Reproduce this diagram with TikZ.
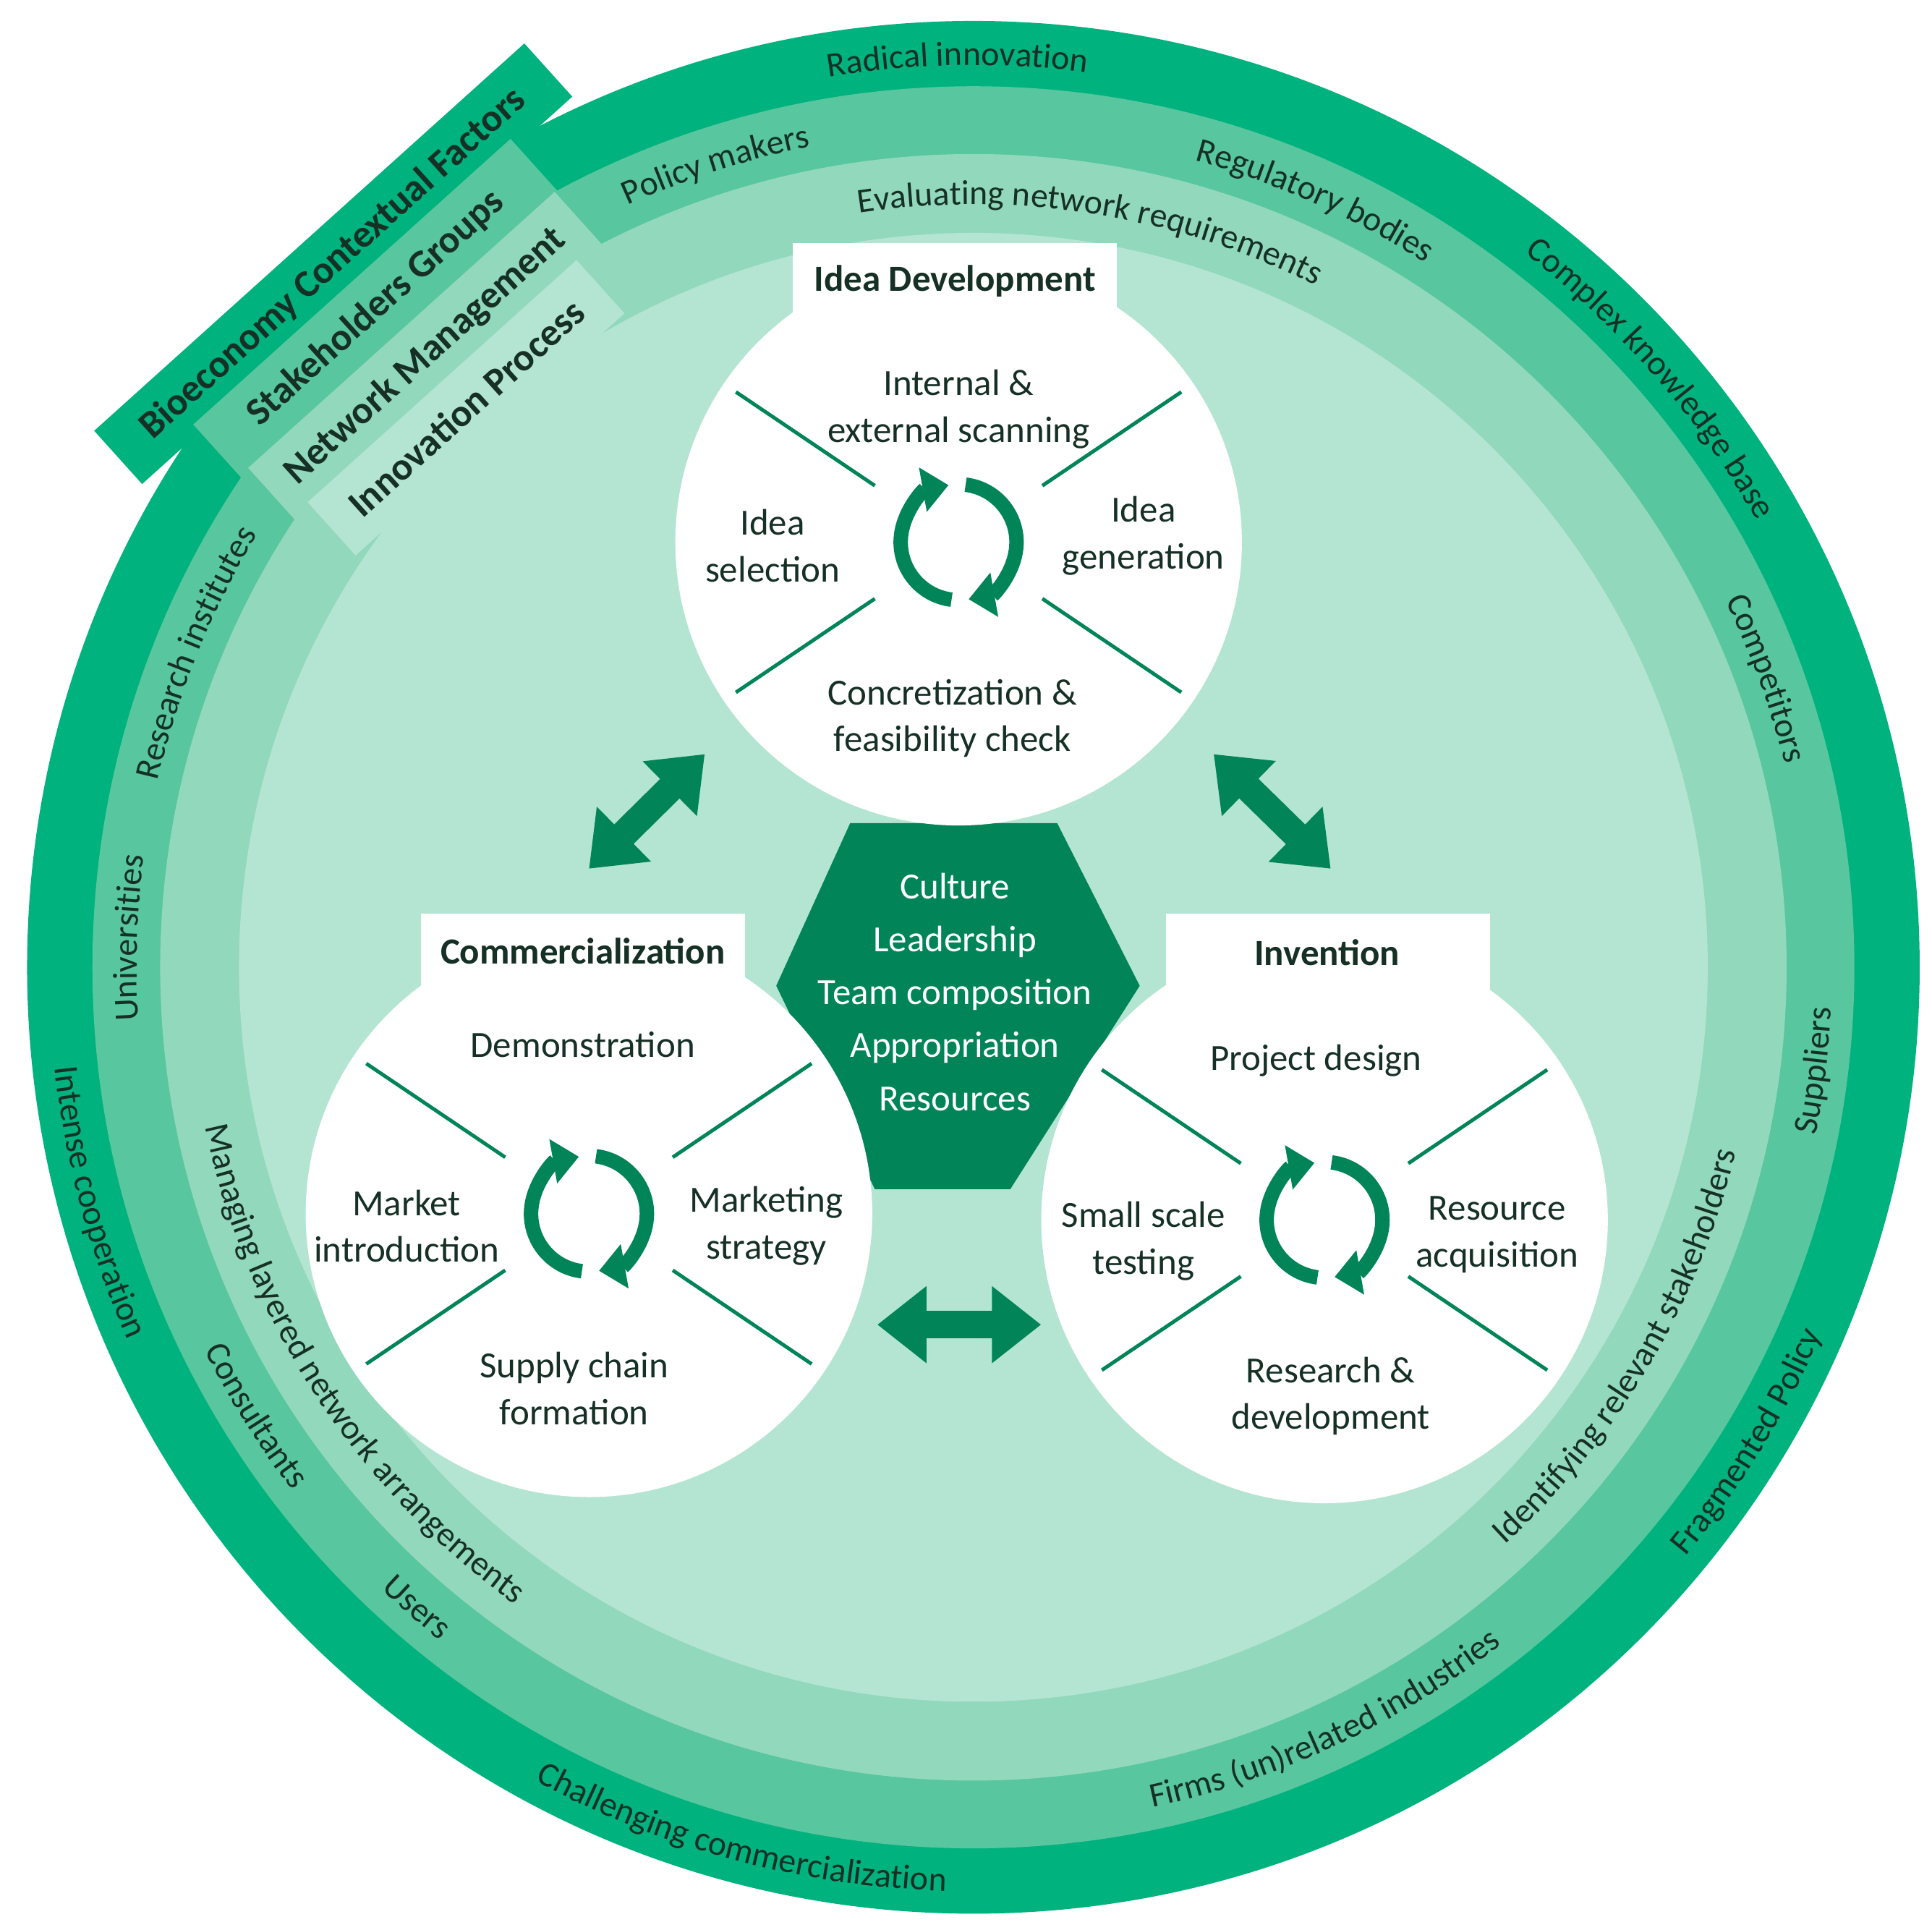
\documentclass[tikz,border=0pt]{standalone}
\usepackage{fontspec}
\setmainfont{Carlito}
\usetikzlibrary{arrows.meta,decorations.text}
\definecolor{ring1}{RGB}{0,178,125}
\definecolor{ring2}{RGB}{88,198,158}
\definecolor{ring3}{RGB}{146,216,189}
\definecolor{ring4}{RGB}{180,229,210}
\definecolor{dk}{RGB}{0,132,88}
\definecolor{txt}{RGB}{22,48,38}
\newcommand\ringfont{\fontsize{13.6}{16}\selectfont}
\newcommand\cwtext[3]{\path[decorate,decoration={text along path,text align=center,text color=txt,text={|\ringfont|#3}}] ({#2+50}:#1) arc[start angle={#2+50},end angle={#2-50},radius=#1];}
\newcommand\ccwtext[3]{\path[decorate,decoration={text along path,text align=center,text color=txt,text={|\ringfont|#3}}] ({#2-50}:#1) arc[start angle={#2-50},end angle={#2+50},radius=#1];}
\begin{document}
\begin{tikzpicture}[x=0.01703cm,y=0.01703cm,
  tab/.style={rectangle,rotate=42,minimum height=0.99cm,inner sep=0,font=\bfseries\fontsize{15.2}{17}\selectfont,text=txt},
  stage/.style={circle,fill=white,minimum size=7.83cm,inner sep=0},
  head/.style={rectangle,fill=white,minimum width=4.48cm,minimum height=1.05cm},
  lbl/.style={align=center,text=txt,font=\fontsize{14.5}{18.4}\selectfont},
  sep/.style={draw=dk,line width=0.05cm},
  cyc/.style={draw=dk,line width=0.2cm,-{Triangle[width=0.6cm,length=0.36cm]}},
  big/.style={draw=dk,line width=0.38cm,{Triangle[width=1.02cm,length=0.68cm]}-{Triangle[width=1.02cm,length=0.68cm]}}]
\useasboundingbox (-790,-781) rectangle (778,785);
% rings
\fill[ring1] (0,0) circle[radius=768];
\fill[ring2] (0,0) circle[radius=715];
\fill[ring3] (0,0) circle[radius=660];
\fill[ring4] (0,0) circle[radius=596];
% tabs
\node[tab,fill=ring1,minimum width=8.0cm] (tb1) at (132.3:772) {Bioeconomy Contextual Factors};
\node[tab,fill=ring2,minimum width=5.9cm] (tb2) at (132.2:722) {Stakeholders Groups};
\node[tab,fill=ring3,minimum width=5.7cm] (tb3) at (131.9:666) {Network Management};
\node[tab,fill=ring4,minimum width=5.0cm] (tb4) at (132.2:613) {Innovation Process};
% ring texts
\cwtext{732}{91}{Radical innovation}
\cwtext{732}{41}{Complex knowledge base}
\ccwtext{750}{-31.5}{Fragmented Policy}
\ccwtext{750}{-105}{Challenging commercialization}
\ccwtext{750}{-165}{Intense cooperation}
\cwtext{679}{107.8}{Policy makers}
\cwtext{679}{66}{Regulatory bodies}
\cwtext{679}{20}{Competitors}
\ccwtext{697}{-7}{Suppliers}
\ccwtext{697}{-65}{Firms (un)related industries}
\ccwtext{697}{-131}{Users}
\ccwtext{697}{-148}{Consultants}
\cwtext{679}{178}{Universities}
\cwtext{679}{158}{Research institutes}
\cwtext{619}{81}{Evaluating network requirements}
\ccwtext{637}{-30.5}{Identifying relevant stakeholders}
\ccwtext{637}{-147}{Managing layered network arrangements}
% hexagon
\fill[dk] (-100,117) -- (68,117) -- (135,-15) -- (30,-180) -- (-80,-180) -- (-160,-15) -- cycle;
% stage circles
\node[stage] (c1) at (-12,345) {};
\node[head] (h1) at (-15,557) {};
\node[stage] (c2) at (-312,-200) {};
\node[head] (h2) at (-317,13) {};
\node[stage] (c3) at (285,-205) {};
\node[head] (h3) at (288,13) {};
\node[font=\bfseries\fontsize{14.5}{17}\selectfont,text=txt] (t1) at (-15,557) {Idea Development};
\node[font=\bfseries\fontsize{14.5}{17}\selectfont,text=txt] (t2) at (-317,13) {Commercialization};
\node[font=\bfseries\fontsize{14.5}{17}\selectfont,text=txt] (t3) at (287,12) {Invention};
% separator lines and cycles
\foreach \c in {c1,c2,c3}{
  \foreach \a in {34,146,214,326}{
    \draw[sep] ([shift={(\a:82)}]\c.center) -- ([shift={(\a:218)}]\c.center);
  }
  \draw[cyc] ([shift={(263:47)}]\c.center) arc[start angle=263,end angle=100,radius=47];
  \draw[cyc] ([shift={(83:47)}]\c.center) arc[start angle=83,end angle=-80,radius=47];
}
% labels idea
\node[lbl] (l11) at (-12,453) {Internal \&\\external scanning};
\node[lbl] (l12) at (-163,342) {Idea\\selection};
\node[lbl] (l13) at (138,350) {Idea\\generation};
\node[lbl] (l14) at (-17,202) {Concretization \&\\feasibility check};
% commercialization
\node[lbl] (l21) at (-317,-63) {Demonstration};
\node[lbl] (l22) at (-460,-210) {Market\\introduction};
\node[lbl] (l23) at (-168,-210) {Marketing\\strategy};
\node[lbl] (l24) at (-324,-342) {Supply chain\\formation};
% invention
\node[lbl] (l31) at (278,-76) {Project design};
\node[lbl] (l32) at (138,-222) {Small scale\\testing};
\node[lbl] (l33) at (425,-217) {Resource\\acquisition};
\node[lbl] (l34) at (290,-348) {Research \&\\development};
% hexagon text
\node[align=center,text=white,font=\fontsize{14.5}{20.8}\selectfont] (hx) at (-15,-20) {Culture\\Leadership\\Team composition\\Appropriation\\Resources};
% double arrows
\coordinate (a1) at (-312,80); \coordinate (b1) at (-218,173);
\coordinate (a2) at (195,173); \coordinate (b2) at (290,80);
\coordinate (a3) at (-78,-290); \coordinate (b3) at (55,-290);
\draw[big] (a1) -- (b1);
\draw[big] (a2) -- (b2);
\draw[big] (a3) -- (b3);
\end{tikzpicture}
\end{document}
